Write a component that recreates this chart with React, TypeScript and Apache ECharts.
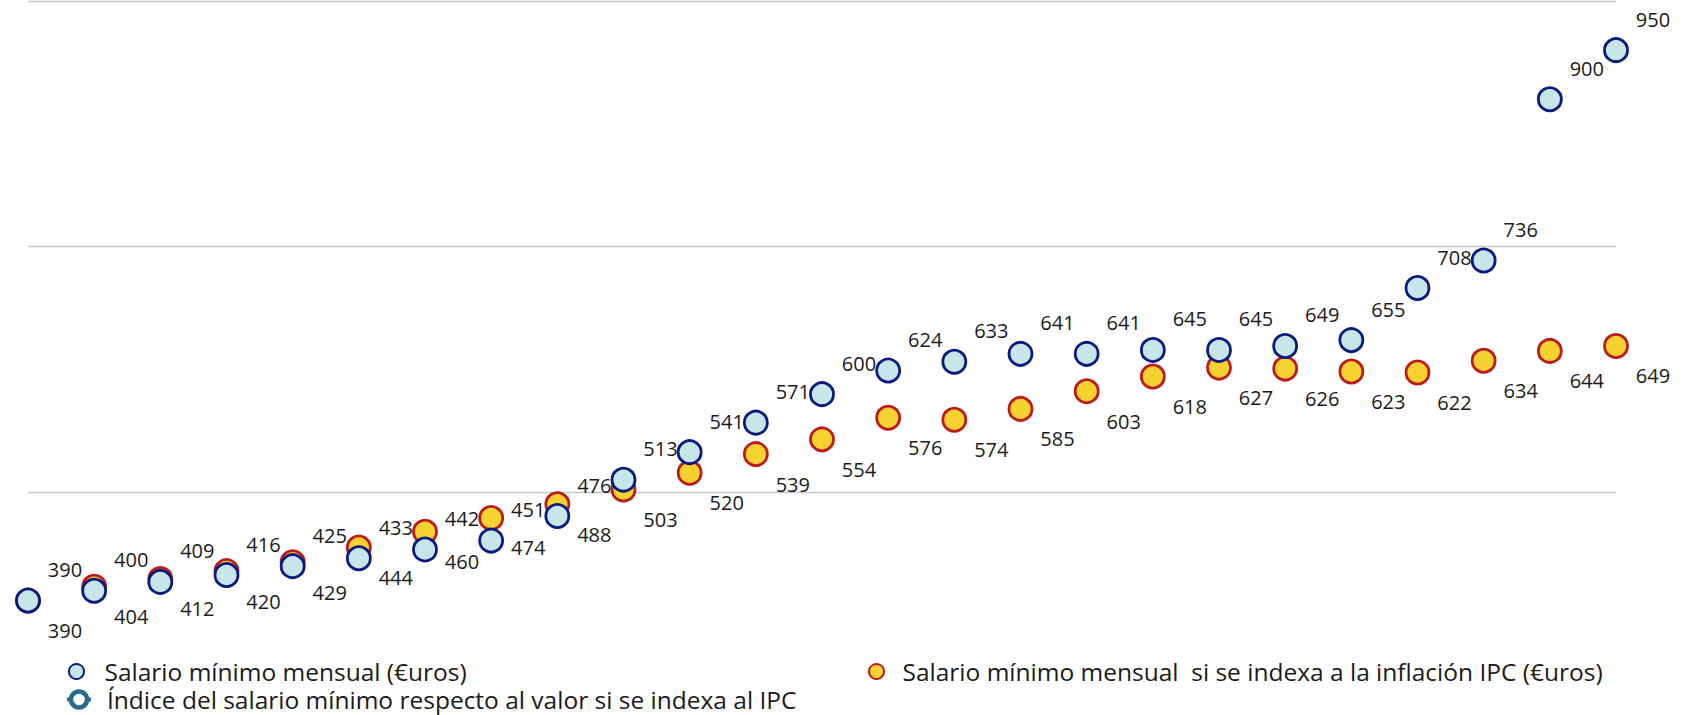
import React, { useEffect, useRef } from "react";
import * as echarts from "echarts";

const years = [
  "1996", "1997", "1998", "1999", "2000", "2001", "2002", "2003", "2004", "2005",
  "2006", "2007", "2008", "2009", "2010", "2011", "2012", "2013", "2014", "2015",
  "2016", "2017", "2018", "2019", "2020",
];
const salarioMinimo = [
  390, 400, 409, 416, 425, 433, 442, 451, 476, 513, 541, 571, 600, 624, 633, 641,
  641, 645, 645, 649, 655, 708, 736, 900, 950,
];
const salarioIndexado = [
  390, 404, 412, 420, 429, 444, 460, 474, 488, 503, 520, 539, 554, 576, 574, 585,
  603, 618, 627, 626, 623, 622, 634, 644, 649,
];
const indice: number[] = [];

const NAME_SMI = "Salario mínimo mensual (€uros)";
const NAME_IDX = "Salario mínimo mensual  si se indexa a la inflación IPC (€uros)";
const NAME_IND = "Índice del salario mínimo respecto al valor si se indexa al IPC";

const FONT = "Open Sans";

export default function App() {
  const ref = useRef<HTMLDivElement>(null);
  useEffect(() => {
    document.body.style.margin = "0";
    if (!ref.current) return;
    const chart = echarts.init(ref.current, null, { renderer: "svg" });
    const labelStyle = {
      show: true,
      position: "inside",
      fontFamily: FONT,
      fontSize: 20,
      color: "#1a1a1a",
      align: "center",
      verticalAlign: "middle",
    };
    const legendText = { fontFamily: FONT, fontSize: 24.5, lineHeight: 24, color: "#1a1a1a" };
    chart.setOption({
      animation: false,
      grid: { left: 28, right: 71, top: 1, bottom: 715 - 615.3 },
      xAxis: {
        type: "category",
        data: years,
        boundaryGap: false,
        show: false,
      },
      yAxis: {
        type: "value",
        min: 375,
        max: 1000,
        interval: 125,
        axisLine: { show: false },
        axisTick: { show: false },
        axisLabel: { show: false },
        splitLine: {
          show: true,
          lineStyle: { color: ["rgba(0,0,0,0)", "#c8c8c8"], width: 1.3 },
        },
      },
      legend: [
        {
          data: [NAME_SMI],
          left: 68,
          top: 659,
          padding: 0,
          itemWidth: 18,
          itemHeight: 15,
          textStyle: { ...legendText, padding: [0, 0, 0, 14] },
        },
        {
          data: [NAME_IDX],
          left: 868,
          top: 659,
          padding: 0,
          itemWidth: 18,
          itemHeight: 15,
          textStyle: { ...legendText, padding: [0, 0, 0, 12] },
        },
        {
          data: [NAME_IND],
          left: 65,
          top: 687,
          padding: 0,
          itemWidth: 24,
          itemHeight: 20,
          itemStyle: { color: "#ffffff", borderColor: "#2a6a8a", borderWidth: 4.5 },
          lineStyle: { color: "#2a6a8a", width: 4 },
          textStyle: { ...legendText, padding: [0, 0, 0, 11] },
        },
      ],
      series: [
        {
          name: NAME_IDX,
          type: "scatter",
          data: salarioIndexado,
          symbol: "circle",
          symbolSize: 23,
          itemStyle: { color: "#f5d22f", borderColor: "#bd1a1c", borderWidth: 2.8, opacity: 1 },
          label: { ...labelStyle, offset: [37, 30] },
          z: 2,
        },
        {
          name: NAME_SMI,
          type: "scatter",
          data: salarioMinimo,
          symbol: "circle",
          symbolSize: 23,
          itemStyle: { color: "#c8e6ea", borderColor: "#0b1a7e", borderWidth: 2.8, opacity: 1 },
          label: { ...labelStyle, offset: [37, -31] },
          z: 3,
        },
        {
          name: NAME_IND,
          type: "line",
          data: indice,
          symbol: "circle",
          symbolSize: 12,
          itemStyle: { color: "#ffffff", borderColor: "#2a6a8a", borderWidth: 4.5 },
          lineStyle: { color: "#2a6a8a", width: 4 },
        },
      ],
    });
    return () => chart.dispose();
  }, []);
  return <div ref={ref} style={{ width: 1687, height: 715 }} />;
}
